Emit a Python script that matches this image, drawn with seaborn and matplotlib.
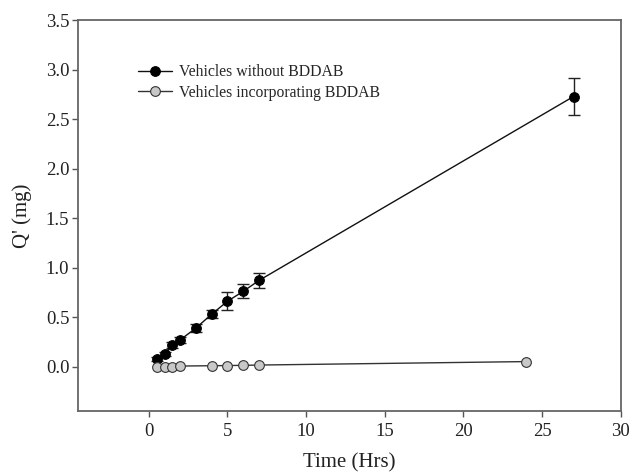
import numpy as np
import pandas as pd
import matplotlib
matplotlib.use("Agg")
import matplotlib.pyplot as plt
import seaborn as sns

# Cumulative amount permeated
time_without = [0.5, 1, 1.5, 2, 3, 4, 5, 6, 7, 27]
q_without = [0.08, 0.13, 0.22, 0.27, 0.39, 0.53, 0.66, 0.76, 0.87, 2.73]
err_without = [0.02, 0.02, 0.03, 0.03, 0.04, 0.04, 0.09, 0.07, 0.08, 0.19]

time_with = [0.5, 1, 1.5, 2, 4, 5, 6, 7, 24]
q_with = [0.0, 0.0, 0.0, 0.005, 0.008, 0.01, 0.012, 0.015, 0.05]

label_without = "Vehicles without BDDAB"
label_with = "Vehicles incorporating BDDAB"

sns.set_style("ticks")
plt.rcParams['font.family'] = ['Liberation Serif', 'DejaVu Serif']

fig = plt.figure(figsize=(6.36, 4.73), dpi=100)
ax = fig.add_axes([0.122, 0.131, 0.854, 0.826])

df_without = pd.DataFrame({'time': time_without, 'q': q_without})
df_with = pd.DataFrame({'time': time_with, 'q': q_with})

# Error bars first so markers sit on top
ax.errorbar(time_without, q_without, yerr=err_without, fmt='none',
            ecolor='#222222', elinewidth=1.0, capsize=4.2, capthick=1.0,
            zorder=2)

sns.lineplot(data=df_without, x='time', y='q', ax=ax, color='#111111',
             linewidth=1.0, marker='o', markersize=7, markerfacecolor='black',
             markeredgecolor='black', label=label_without, zorder=3)
sns.lineplot(data=df_with, x='time', y='q', ax=ax, color='#333333',
             linewidth=1.0, marker='o', markersize=7,
             markerfacecolor='#c8c8c8', markeredgecolor='#333333',
             markeredgewidth=0.8, label=label_with, zorder=3)

ax.set_xlim(-4.53, 30)
ax.set_ylim(-0.45, 3.5)
ax.set_xticks([0, 5, 10, 15, 20, 25, 30])
ax.set_yticks(np.arange(0, 3.51, 0.5))
ax.set_yticklabels([f"{v:.1f}" for v in np.arange(0, 3.51, 0.5)])

for side in ['top', 'right', 'left', 'bottom']:
    ax.spines[side].set_visible(True)
    ax.spines[side].set_color('#666666')
    ax.spines[side].set_linewidth(1.3)
ax.tick_params(direction='out', length=4.5, width=1.0, color='#555555',
               labelsize=13.5, labelcolor='#222222')
ax.tick_params(axis='x', pad=4)
ax.tick_params(axis='y', pad=1.5)

ax.set_xlabel('Time (Hrs)', fontsize=15, color='#222222', labelpad=10)
ax.set_ylabel("Q' (mg)", fontsize=15, color='#222222', labelpad=10)

ax.legend(loc='upper left', bbox_to_anchor=(0.111, 0.887), frameon=False,
          fontsize=11.3, handlelength=2.2, handletextpad=0.45,
          labelspacing=0.27, borderaxespad=0, borderpad=0)

plt.savefig('out.png', dpi=100)
